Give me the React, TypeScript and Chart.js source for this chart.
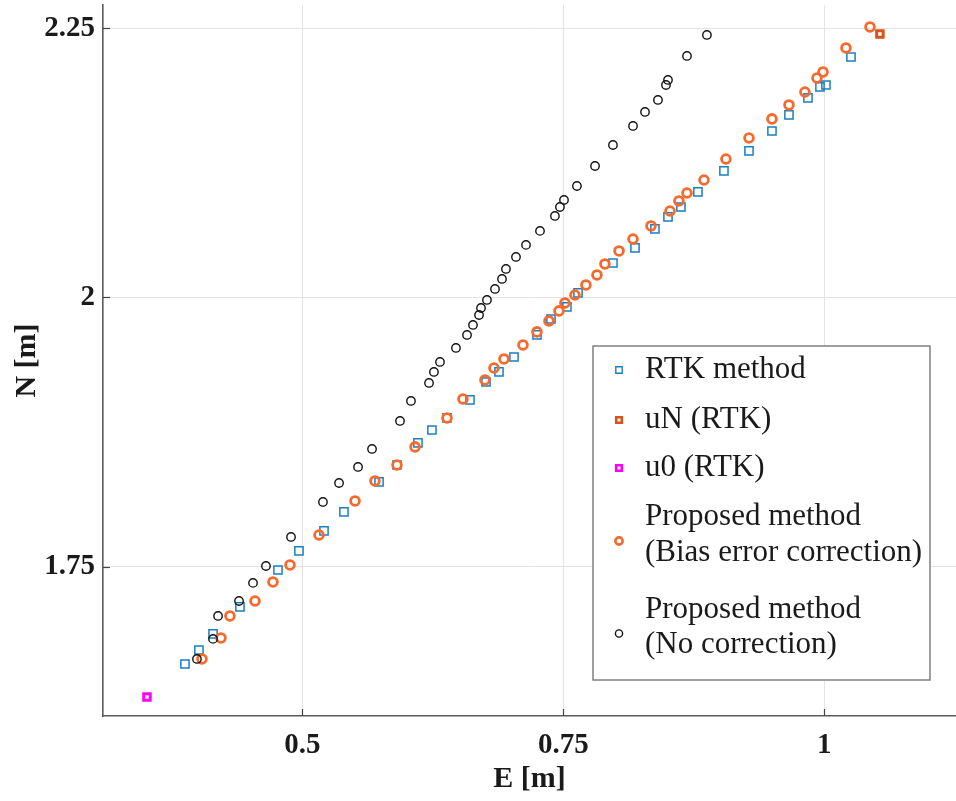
import React, { useEffect, useRef } from "react";
import { Chart, registerables } from "chart.js";

Chart.register(...registerables);

// RTK method (blue squares)
const rtkE = [0.3876, 0.401, 0.4145, 0.4403, 0.4767, 0.4968, 0.5208, 0.5399, 0.5735, 0.5907, 0.6108, 0.6242, 0.6386, 0.6606, 0.676, 0.6884, 0.7028, 0.7248, 0.7382, 0.7535, 0.7641, 0.7976, 0.8187, 0.8378, 0.8503, 0.8627, 0.879, 0.9039, 0.9279, 0.9499, 0.9662, 0.9844, 0.9959, 1.0016, 1.0256];
const rtkN = [1.6596, 1.6726, 1.6875, 1.7126, 1.7469, 1.7646, 1.7832, 1.8008, 1.8287, 1.8444, 1.8649, 1.8769, 1.8881, 1.9048, 1.9215, 1.9308, 1.9447, 1.9652, 1.98, 1.9912, 2.0042, 2.032, 2.046, 2.0636, 2.0748, 2.084, 2.098, 2.1175, 2.1361, 2.1546, 2.1695, 2.1853, 2.1955, 2.1973, 2.2233];

// uN (RTK) and u0 (RTK)
const uNE = [1.0533];
const uNN = [2.2447];
const u0E = [0.3512];
const u0N = [1.629];

// Proposed method (Bias error correction) - orange circles
const biasE = [0.4039, 0.4221, 0.4307, 0.4547, 0.4719, 0.4882, 0.516, 0.5505, 0.5696, 0.5907, 0.608, 0.6386, 0.6539, 0.675, 0.6836, 0.6932, 0.7114, 0.7248, 0.7363, 0.7459, 0.7516, 0.7612, 0.7717, 0.7823, 0.7899, 0.8034, 0.8168, 0.834, 0.8522, 0.8608, 0.8685, 0.8848, 0.9058, 0.9279, 0.9499, 0.9662, 0.9815, 0.993, 0.9988, 1.0208, 1.0438];
const biasN = [1.6643, 1.6838, 1.7042, 1.7181, 1.7358, 1.7516, 1.7794, 1.811, 1.8296, 1.8444, 1.8612, 1.8881, 1.9057, 1.9234, 1.9345, 1.9429, 1.9559, 1.968, 1.9782, 1.9875, 1.9949, 2.0023, 2.0116, 2.0209, 2.0311, 2.0432, 2.0543, 2.0664, 2.0803, 2.0896, 2.097, 2.1091, 2.1286, 2.1481, 2.1658, 2.1788, 2.1908, 2.2038, 2.2094, 2.2317, 2.2512];

// Proposed method (No correction) - black circles
const noCorrE = [0.3991, 0.4145, 0.4193, 0.4394, 0.4528, 0.4652, 0.4892, 0.5198, 0.5352, 0.5534, 0.5668, 0.5936, 0.6041, 0.6214, 0.6261, 0.6319, 0.6472, 0.6578, 0.6635, 0.6693, 0.6712, 0.6769, 0.6846, 0.6913, 0.6951, 0.7047, 0.7143, 0.7277, 0.742, 0.7468, 0.7507, 0.7631, 0.7804, 0.7976, 0.8168, 0.8283, 0.8407, 0.8484, 0.8503, 0.8685, 0.8876];
const noCorrN = [1.6643, 1.6829, 1.7042, 1.7181, 1.7349, 1.7506, 1.7776, 1.8101, 1.8277, 1.8426, 1.8593, 1.8853, 1.9039, 1.9206, 1.9308, 1.9401, 1.9531, 1.9652, 1.9745, 1.9837, 1.9902, 1.9977, 2.0079, 2.0172, 2.0265, 2.0376, 2.0488, 2.0618, 2.0757, 2.084, 2.0905, 2.1035, 2.1221, 2.1416, 2.1593, 2.1723, 2.1834, 2.1973, 2.202, 2.2243, 2.2438];

const xTicks = [0.5, 0.75, 1];
const yTicks = [1.75, 2, 2.25];
const xRange = [0.3091, 1.1262];
const yRange = [1.6113, 2.2716];

const xTitle = "E [m]";
const yTitle = "N [m]";

const legendLabels = [
  ["RTK method"],
  ["uN (RTK)"],
  ["u0 (RTK)"],
  ["Proposed method", "(Bias error correction)"],
  ["Proposed method", "(No correction)"],
];

const BLUE = "#1a7fc1";
const UN = "#d95319";
const MAG = "#ff00ff";
const ORANGE = "#f7692c";
const BLACK = "#111111";

const zip = (xs: number[], ys: number[]) => xs.map((x, i) => ({ x, y: ys[i] }));

function drawMarker(ctx: CanvasRenderingContext2D, kind: number, x: number, y: number, scale = 1) {
  ctx.save();
  ctx.beginPath();
  if (kind === 0) {
    ctx.strokeStyle = BLUE; ctx.lineWidth = 1.4; const s = 3.2 * scale;
    ctx.rect(x - s, y - s, 2 * s, 2 * s);
  } else if (kind === 1) {
    ctx.strokeStyle = UN; ctx.lineWidth = 2.6; const s = 2.8 * scale;
    ctx.rect(x - s, y - s, 2 * s, 2 * s);
  } else if (kind === 2) {
    ctx.strokeStyle = MAG; ctx.lineWidth = 2.6; const s = 2.8 * scale;
    ctx.rect(x - s, y - s, 2 * s, 2 * s);
  } else if (kind === 3) {
    ctx.strokeStyle = ORANGE; ctx.lineWidth = 2.6; ctx.arc(x, y, 3.6 * scale, 0, Math.PI * 2);
  } else {
    ctx.strokeStyle = BLACK; ctx.lineWidth = 1.4; ctx.arc(x, y, 3.6 * scale, 0, Math.PI * 2);
  }
  ctx.stroke();
  ctx.restore();
}

const overlayPlugin = {
  id: "overlay",
  afterDraw(chart: any) {
    const ctx: CanvasRenderingContext2D = chart.ctx;
    const ca = chart.chartArea;
    const xs = chart.scales.x;
    const ys = chart.scales.y;
    // inward ticks
    ctx.save();
    ctx.strokeStyle = "#444";
    ctx.lineWidth = 1.2;
    xTicks.forEach((v) => {
      const px = Math.round(xs.getPixelForValue(v)) + 0.5;
      ctx.beginPath(); ctx.moveTo(px, ca.bottom); ctx.lineTo(px, ca.bottom - 7); ctx.stroke();
    });
    yTicks.forEach((v) => {
      const py = Math.round(ys.getPixelForValue(v)) + 0.5;
      ctx.beginPath(); ctx.moveTo(ca.left, py); ctx.lineTo(ca.left + 7, py); ctx.stroke();
    });
    ctx.restore();

    // legend
    const bx = ca.left + 490;
    const by = ca.top + 341;
    const bw = 337;
    const bh = 334;
    ctx.save();
    ctx.fillStyle = "#ffffff";
    ctx.fillRect(bx, by, bw, bh);
    ctx.strokeStyle = "#808080";
    ctx.lineWidth = 1.5;
    ctx.strokeRect(bx, by, bw, bh);
    ctx.fillStyle = "#1a1a1a";
    ctx.font = "31px 'Liberation Serif', 'DejaVu Serif', serif";
    ctx.textBaseline = "middle";
    ctx.textAlign = "left";
    const rows = [[24], [74], [122], [171, 207], [264, 299]];
    legendLabels.forEach((lines, i) => {
      const ry = rows[i];
      lines.forEach((t, j) => ctx.fillText(t, bx + 52, by + ry[j]));
      const my = ry.length > 1 ? by + (ry[0] + ry[1]) / 2 + 6 : by + ry[0];
      drawMarker(ctx, i, bx + 26, my, 1);
    });
    ctx.restore();
  },
};

export default function App() {
  const ref = useRef<HTMLCanvasElement | null>(null);
  useEffect(() => {
    if (!ref.current) return;
    const chart = new Chart(ref.current, {
      type: "scatter",
      data: {
        datasets: [
          {
            label: "RTK method",
            data: zip(rtkE, rtkN),
            pointStyle: "rect",
            pointRadius: 5.8,
            pointBorderWidth: 1.5,
            pointBorderColor: BLUE,
            pointBackgroundColor: "rgba(0,0,0,0)",
            showLine: false,
            order: 4,
          },
          {
            label: "uN (RTK)",
            data: zip(uNE, uNN),
            pointStyle: "rect",
            pointRadius: 4.6,
            pointBorderWidth: 3,
            pointBorderColor: UN,
            pointBackgroundColor: "rgba(0,0,0,0)",
            showLine: false,
            order: 3,
          },
          {
            label: "u0 (RTK)",
            data: zip(u0E, u0N),
            pointStyle: "rect",
            pointRadius: 4.6,
            pointBorderWidth: 3,
            pointBorderColor: MAG,
            pointBackgroundColor: "rgba(0,0,0,0)",
            showLine: false,
            order: 2,
          },
          {
            label: "Proposed method (Bias error correction)",
            data: zip(biasE, biasN),
            pointStyle: "circle",
            pointRadius: 4.4,
            pointBorderWidth: 2.8,
            pointBorderColor: ORANGE,
            pointBackgroundColor: "rgba(0,0,0,0)",
            showLine: false,
            order: 1,
          },
          {
            label: "Proposed method (No correction)",
            data: zip(noCorrE, noCorrN),
            pointStyle: "circle",
            pointRadius: 4.2,
            pointBorderWidth: 1.4,
            pointBorderColor: BLACK,
            pointBackgroundColor: "rgba(0,0,0,0)",
            showLine: false,
            order: 0,
          },
        ],
      },
      options: {
        animation: false,
        responsive: false,
        devicePixelRatio: 1,
        events: [],
        layout: { autoPadding: false, padding: { top: 5, left: 0, right: 0, bottom: 0 } },
        plugins: { legend: { display: false }, tooltip: { enabled: false } },
        scales: {
          x: {
            type: "linear",
            min: xRange[0],
            max: xRange[1],
            afterBuildTicks: (s: any) => { s.ticks = xTicks.map((v) => ({ value: v })); },
            afterFit: (s: any) => { s.height = 85; s.paddingLeft = 0; s.paddingRight = 0; },
            ticks: {
              callback: (v: any) => String(v),
              font: { family: "'Liberation Serif', serif", size: 29, weight: "bold" },
              color: "#1a1a1a",
              padding: 12,
              maxRotation: 0,
            },
            grid: { color: "#e4e4e4", lineWidth: 1, drawTicks: false },
            border: { color: "#5a5a5a", width: 1.6 },
            title: {
              display: true,
              text: xTitle,
              font: { family: "'Liberation Serif', serif", size: 30, weight: "bold" },
              color: "#1a1a1a",
              padding: { top: 4, bottom: 4 },
            },
          },
          y: {
            type: "linear",
            min: yRange[0],
            max: yRange[1],
            afterBuildTicks: (s: any) => { s.ticks = yTicks.map((v) => ({ value: v })); },
            afterFit: (s: any) => { s.width = 103; s.paddingTop = 0; s.paddingBottom = 0; },
            ticks: {
              callback: (v: any) => String(v),
              font: { family: "'Liberation Serif', serif", size: 29, weight: "bold" },
              color: "#1a1a1a",
              padding: 8,
            },
            grid: { color: "#e4e4e4", lineWidth: 1, drawTicks: false },
            border: { color: "#5a5a5a", width: 1.6 },
            title: {
              display: true,
              text: yTitle,
              font: { family: "'Liberation Serif', serif", size: 30, weight: "bold" },
              color: "#1a1a1a",
              padding: { top: 9, bottom: 9 },
            },
          },
        },
      },
      plugins: [overlayPlugin],
    } as any);
    return () => chart.destroy();
  }, []);
  return (
    <div style={{ position: "absolute", left: 0, top: 0, width: 956, height: 801, background: "#fff" }}>
      <canvas ref={ref} width={956} height={801} style={{ display: "block" }} />
    </div>
  );
}
